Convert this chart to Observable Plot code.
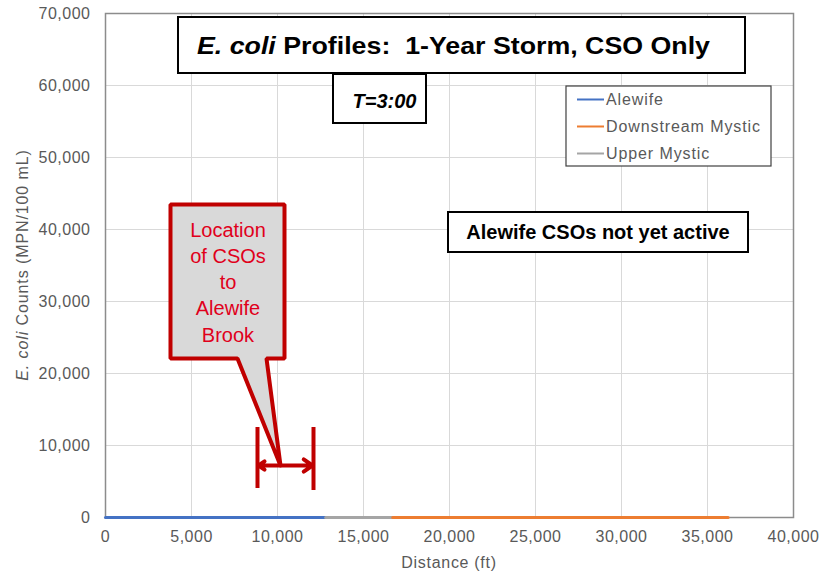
<!DOCTYPE html>
<html><head><meta charset="utf-8">
<script src="https://cdn.jsdelivr.net/npm/d3@7"></script>
<script src="https://cdn.jsdelivr.net/npm/@observablehq/plot@0.6"></script>
<style>
body{margin:0;background:#fff;font-family:"Liberation Sans",Arial,sans-serif;}
</style></head><body><div id="chart"></div>
<script>
// Series (distance in ft, E. coli counts)
const series = ["Alewife", "Downstream Mystic", "Upper Mystic"];
const colors = ["#4472c4", "#ed7d31", "#a5a5a5"];
const alewifeDist = [0, 12800];
const alewifeVal = [0, 0];
const upperDist = [12800, 16700];
const upperVal = [0, 0];
const downDist = [16700, 36200];
const downVal = [0, 0];
const xTicks = [0, 5000, 10000, 15000, 20000, 25000, 30000, 35000, 40000];
const yTicks = [0, 10000, 20000, 30000, 40000, 50000, 60000, 70000];
const calloutLines = ["Location", "of CSOs", "to", "Alewife", "Brook"];

const rows = [];
alewifeDist.forEach((d, i) => rows.push({s: "Alewife", x: d, y: alewifeVal[i]}));
upperDist.forEach((d, i) => rows.push({s: "Upper Mystic", x: d, y: upperVal[i]}));
downDist.forEach((d, i) => rows.push({s: "Downstream Mystic", x: d, y: downVal[i]}));

// annotation geometry (data units)
const callout = [[3779,43472],[10407,43472],[10407,22083],[9360,22083],[10174,7222],[7674,22083],[3779,22083]];
const bracketL = 8837, bracketR = 12093, bracketMid = 10174, bracketY = 7222;
const legendY = [58056, 54306, 50556];
const legendRows = series.map((s, i) => ({s, y: legendY[i]}));
const calloutY = [39861, 36250, 32639, 29028, 25278];
const gridColor = "#d9d9d9";
const red = "#c00000";

const plot = Plot.plot({
  width: 822, height: 576,
  marginLeft: 105, marginRight: 29, marginTop: 13, marginBottom: 59,
  style: {fontFamily: "Liberation Sans, Arial, sans-serif", fontSize: "16px", color: "#595959", background: "#fff", letterSpacing: "0.5px"},
  x: {domain: [0, 40000]},
  y: {domain: [0, 70000]},
  color: {domain: series, range: colors},
  marks: [
    Plot.ruleX(xTicks, {stroke: gridColor, strokeWidth: 1}),
    Plot.ruleY(yTicks, {stroke: gridColor, strokeWidth: 1}),
    Plot.axisX({ticks: xTicks, tickFormat: d3.format(","), tickSize: 0, tickPadding: 13, label: null, fontSize: 16, fill: "#595959"}),
    Plot.axisY({ticks: yTicks, tickFormat: d3.format(","), tickSize: 0, tickPadding: 15, label: null, fontSize: 16, fill: "#595959"}),
    Plot.frame({stroke: "#8c8c8c", strokeWidth: 1.5}),
    Plot.line(rows, {x: "x", y: "y", z: "s", stroke: "s", strokeWidth: 3}),
    // Title box
    Plot.rect([{x1: 4244, x2: 37209, y1: 61667, y2: 69444}], {x1: "x1", x2: "x2", y1: "y1", y2: "y2", fill: "#fff", stroke: "#000", strokeWidth: 2}),
    Plot.rect([{x1: 13256, x2: 18663, y1: 54722, y2: 61528}], {x1: "x1", x2: "x2", y1: "y1", y2: "y2", fill: "#fff", stroke: "#000", strokeWidth: 2}),
    // Legend
    Plot.rect([{x1: 26802, x2: 38721, y1: 48750, y2: 59861}], {x1: "x1", x2: "x2", y1: "y1", y2: "y2", fill: "#fff", stroke: "#404040", strokeWidth: 1.2}),
    Plot.ruleY(legendRows, {y: "y", x1: 27442, x2: 29012, stroke: "s", strokeWidth: 2}),
    // Alewife CSOs box
    Plot.rect([{x1: 19942, x2: 37384, y1: 36806, y2: 42361}], {x1: "x1", x2: "x2", y1: "y1", y2: "y2", fill: "#fff", stroke: "#000", strokeWidth: 2}),
    // Red callout
    Plot.line(callout, {x: d => d[0], y: d => d[1], curve: "linear-closed", fill: "#d9d9d9", stroke: red, strokeWidth: 4, strokeLinejoin: "miter"}),
    Plot.ruleX([bracketL], {x: d => d, y1: 4028, y2: 12500, stroke: red, strokeWidth: 4}),
    Plot.ruleX([bracketR], {x: d => d, y1: 3750, y2: 12500, stroke: red, strokeWidth: 4}),
    Plot.arrow([{a: bracketMid, b: bracketL + 60}, {a: bracketMid, b: bracketR - 60}], {x1: "a", x2: "b", y1: bracketY, y2: bracketY, stroke: red, strokeWidth: 4, headLength: 14, headAngle: 70})
  ]
});

const svg = d3.select(plot);
const xs = plot.scale("x"), ys = plot.scale("y");
function txt(x, y, size, opts = {}) {
  const t = svg.append("text").attr("x", xs.apply(x)).attr("y", ys.apply(y)).attr("dy", "0.35em")
    .attr("text-anchor", opts.anchor || "middle").attr("font-size", size)
    .attr("font-weight", opts.weight || "normal").attr("font-style", opts.style || "normal")
    .attr("fill", opts.fill || "#000").attr("letter-spacing", opts.ls || "0px");
  return t;
}
// title with italic part
const t = txt(20262, 65486, 23, {weight: "bold"}).attr("xml:space", "preserve")
  .attr("textLength", 513).attr("lengthAdjust", "spacingAndGlyphs");
t.append("tspan").attr("font-style", "italic").text("E. coli");
t.append("tspan").text(" Profiles:  1-Year Storm, CSO Only");
txt(16250, 57778, 20, {weight: "bold", style: "italic"}).text("T=3:00");
txt(28663, 39583, 20, {weight: "bold"}).text("Alewife CSOs not yet active");
legendRows.forEach(r => txt(29128, r.y, 16, {anchor: "start", fill: "#595959", ls: "0.9px"}).text(r.s));
calloutLines.forEach((s, i) => txt(7151, calloutY[i], 20, {fill: "#e0001b"}).text(s));
// y axis label
const yl = svg.append("text").attr("transform", `translate(22,${(ys.apply(0) + ys.apply(70000)) / 2}) rotate(-90)`)
  .attr("text-anchor", "middle").attr("font-size", 16).attr("fill", "#595959").attr("dy", "0.35em").attr("letter-spacing", "0.9px");
yl.append("tspan").attr("font-style", "italic").text("E. coli");
yl.append("tspan").text(" Counts (MPN/100 mL)");
// x axis label
svg.append("text").attr("x", (xs.apply(0) + xs.apply(40000)) / 2).attr("y", 562).attr("dy", "0.35em")
  .attr("text-anchor", "middle").attr("font-size", 16).attr("fill", "#595959").attr("letter-spacing", "0.7px").text("Distance (ft)");

document.getElementById("chart").appendChild(plot);
</script></body></html>
